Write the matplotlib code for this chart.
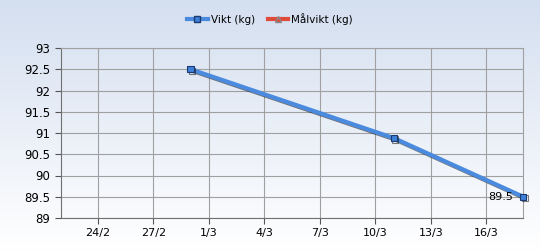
import datetime as dt
import numpy as np
import matplotlib
matplotlib.use("Agg")
import matplotlib.pyplot as plt
import matplotlib.dates as mdates
import matplotlib.patheffects as pe

# Data
dates = [dt.date(2016, 2, 29), dt.date(2016, 3, 11), dt.date(2016, 3, 18)]
vikt = [92.5, 90.88, 89.5]
tick_dates = [dt.date(2016, 2, 24), dt.date(2016, 2, 27), dt.date(2016, 3, 1),
              dt.date(2016, 3, 4), dt.date(2016, 3, 7), dt.date(2016, 3, 10),
              dt.date(2016, 3, 13), dt.date(2016, 3, 16)]
tick_labels = ["24/2", "27/2", "1/3", "4/3", "7/3", "10/3", "13/3", "16/3"]

fig = plt.figure(figsize=(5.4, 2.5), dpi=100)

# gradient background
bg = fig.add_axes([0, 0, 1, 1], zorder=-10)
grad = np.linspace(0, 1, 256).reshape(-1, 1)
top = np.array([212, 223, 240]) / 255
bot = np.array([255, 255, 255]) / 255
img = top + (bot - top) * grad[:, :, None]
bg.imshow(img, aspect="auto", extent=[0, 1, 0, 1])
bg.axis("off")

ax = fig.add_axes([0.113, 0.128, 0.856, 0.68])
ax.patch.set_alpha(0)

line_color = "#4a8be0"
ax.plot(dates, vikt, color=line_color, lw=3.0, marker="s", ms=4.5,
        mfc="#3f7fd8", mec="#1a3a70", mew=0.8, zorder=3,
        path_effects=[pe.SimpleLineShadow(offset=(1, -1), alpha=0.5), pe.Normal()],
        clip_on=False)

# value label for the last point
ax.annotate("89.5", (dates[-1], vikt[-1]), xytext=(-7, 0), textcoords="offset points",
            ha="right", va="center", fontsize=8, color="black", zorder=4)

ax.set_xlim(dt.date(2016, 2, 22), dt.date(2016, 3, 18))
ax.set_ylim(89, 93)
ax.set_yticks(np.arange(89, 93.01, 0.5))
ax.set_yticklabels(["89", "89.5", "90", "90.5", "91", "91.5", "92", "92.5", "93"])
ax.set_xticks([mdates.date2num(d) for d in tick_dates])
ax.set_xticklabels(tick_labels)
ax.tick_params(axis="both", labelsize=8, length=4, color="#555555", direction="out")
ax.tick_params(axis="x", colors="#555555", labelcolor="black", length=4)
ax.tick_params(axis="y", labelsize=8.5)
ax.grid(True, color="#a0a0a0", lw=0.8)
for s in ["top", "right"]:
    ax.spines[s].set_color("#a0a0a0")
for s in ["left", "bottom"]:
    ax.spines[s].set_color("#707070")

# legend
h1, = ax.plot([], [], color=line_color, lw=3, marker="s", ms=4, mfc="#3f7fd8", mec="#1a3a70")
h2, = ax.plot([], [], color="#e04a3a", lw=3, marker="^", ms=4, mfc="#e04a3a", mec="#888888")
fig.legend([h1, h2], ["Vikt (kg)", "Målvikt (kg)"], loc="center", bbox_to_anchor=(0.5, 0.925),
           ncol=2, frameon=False, fontsize=7.5, handlelength=2.0, columnspacing=1.2,
           handletextpad=0.3)

fig.savefig("out.png", dpi=100)
